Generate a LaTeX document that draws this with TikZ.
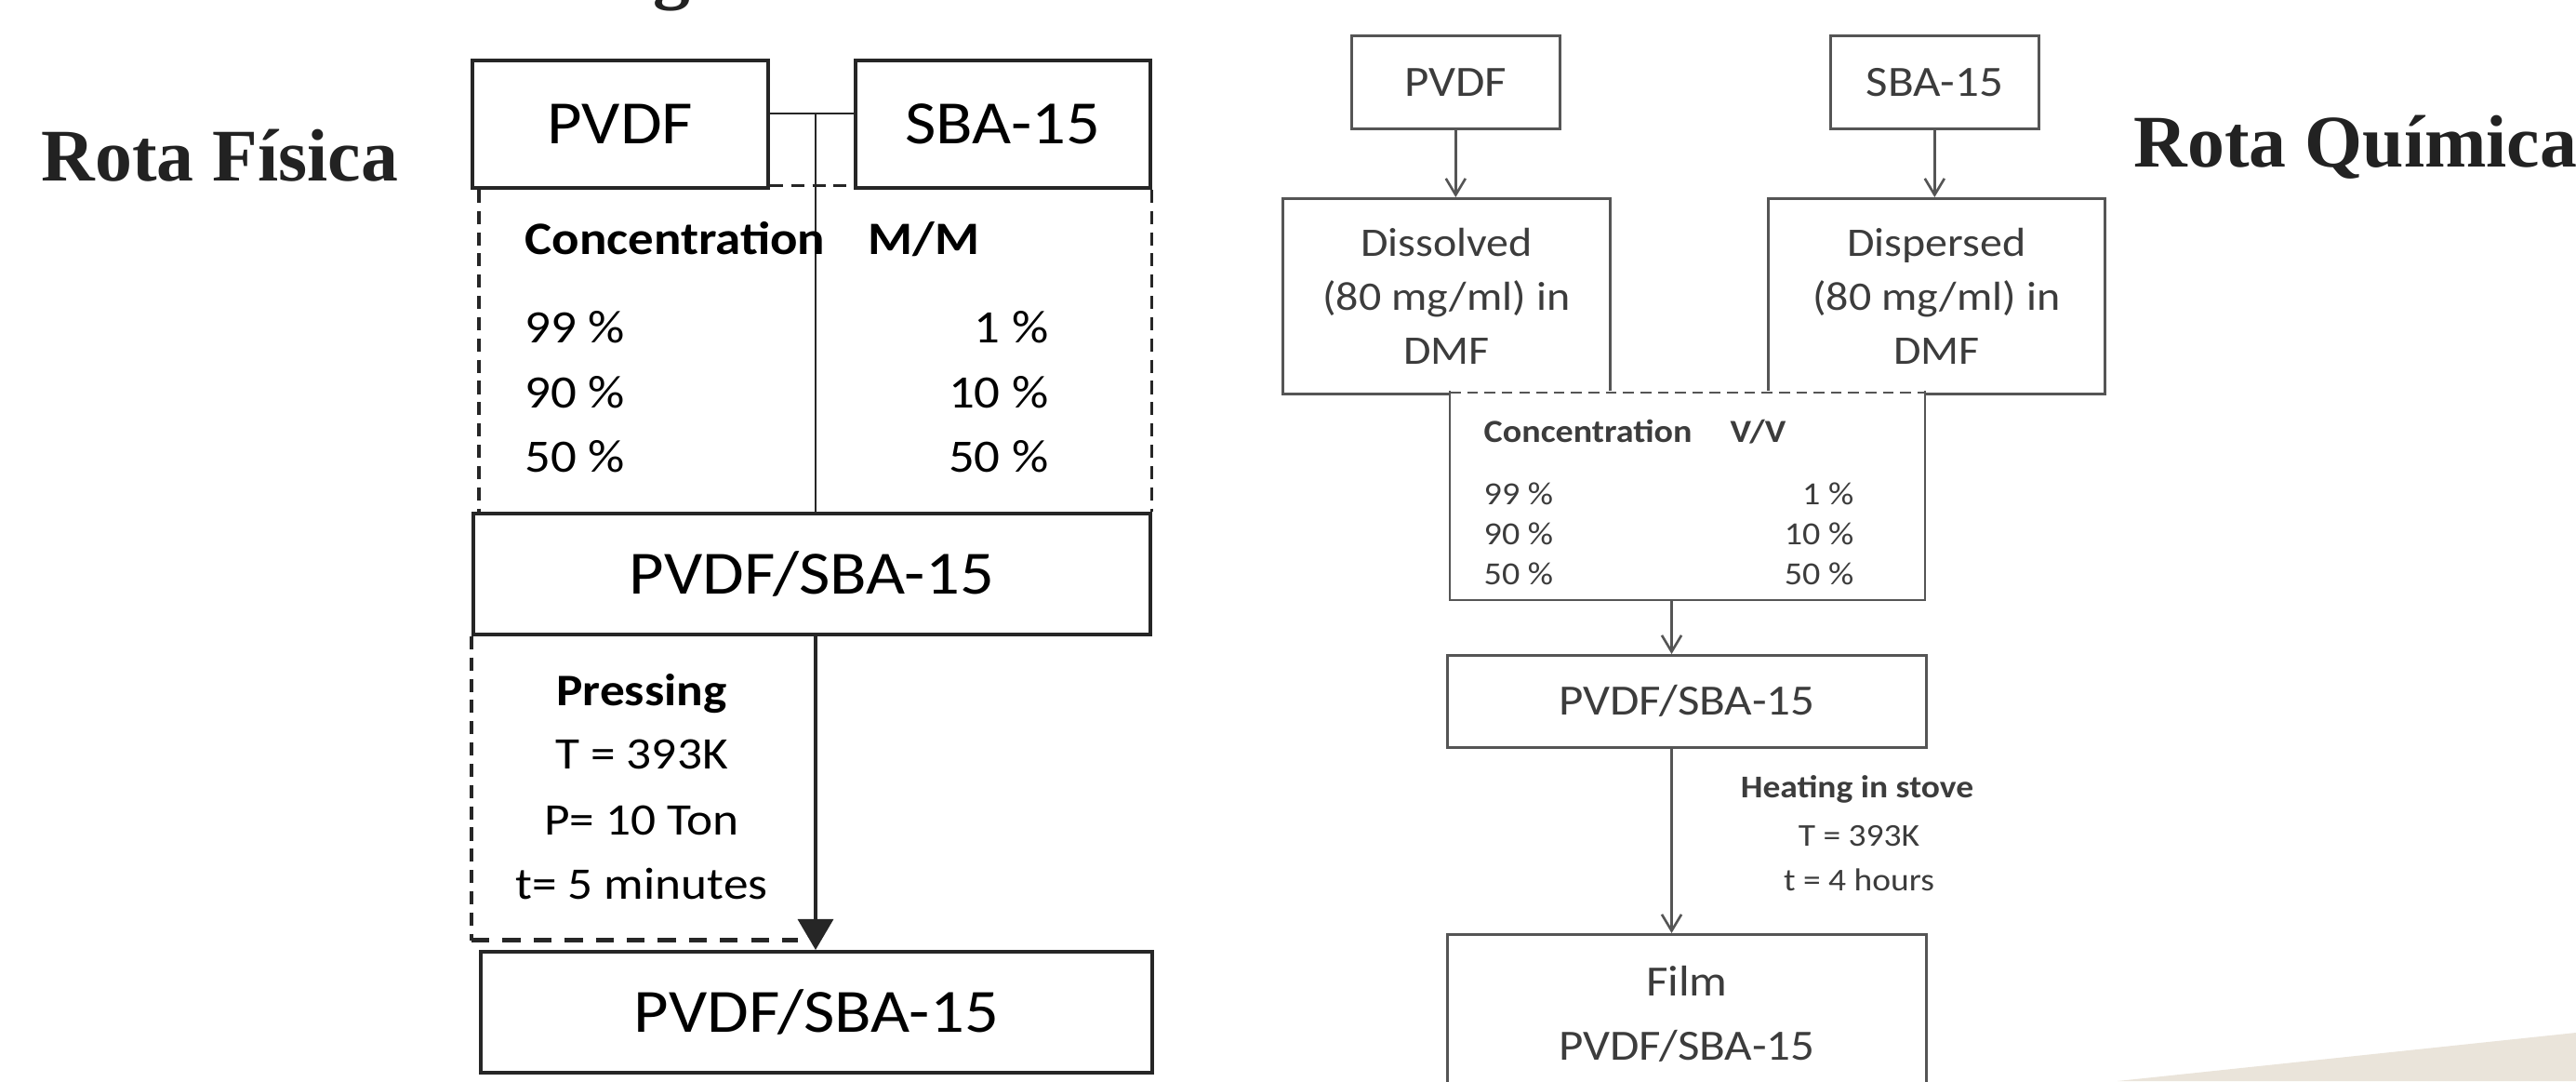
\documentclass[tikz,border=0pt]{standalone}
\usepackage{fontspec}
\setmainfont{Carlito}[FakeStretch=1.10]
\newfontfamily\rotafont{Liberation Serif}
\usepackage{xcolor}
\usepackage{tikz}
\usetikzlibrary{positioning}
\usetikzlibrary{calc,arrows.meta}

\definecolor{FisLine}{HTML}{262626}
\definecolor{QuiLine}{HTML}{555555}
\definecolor{QuiText}{HTML}{3C3C3C}
\definecolor{RotaText}{HTML}{222222}
\definecolor{Beige}{HTML}{EAE4DA}

\tikzset{
	fisbox/.style={draw=FisLine, line width=1.1pt, inner sep=0pt, anchor=north west, font=\fontsize{18.8}{22}\selectfont},
	fisline/.style={draw=FisLine, line width=0.8pt},
	fisdash/.style={draw=FisLine, line width=0.9pt, dash pattern=on 4pt off 2.5pt},
	fistext/.style={inner sep=0pt, font=\fontsize{14.2}{17}\selectfont},
	presstext/.style={inner sep=0pt, anchor=base, font=\fontsize{13.8}{16}\selectfont},
	quibox/.style={draw=QuiLine, line width=0.75pt, inner sep=0pt, anchor=north west, text=QuiText, align=center, font=\fontsize{13.2}{16.4}\selectfont},
	quiline/.style={draw=QuiLine, line width=0.75pt},
	quiarrow/.style={quiline, -{Straight Barb[length=5pt,width=6pt]}},
	quitext/.style={inner sep=0pt, text=QuiText, font=\fontsize{9.85}{12}\selectfont},
	heattext/.style={inner sep=0pt, anchor=base, text=QuiText, font=\fontsize{9.7}{12}\selectfont},
	rotalabel/.style={inner sep=0pt, anchor=base west, text=RotaText, font=\rotafont\bfseries\fontsize{22.7}{27}\selectfont},
}

\begin{document}
\begin{tikzpicture}
	
	% ---------------------
	% Page frame
	\path[fill=white, use as bounding box] (0.00cm,0.00cm) rectangle (27.70cm,-11.62cm);
	\fill[Beige] (22.77cm,-11.62cm) -- (27.70cm,-11.10cm) -- (27.70cm,-11.62cm) -- cycle;
	
	% ---------------------
	% Titles
	\node[rotalabel] (RotaFis) at (0.44cm,-1.94cm) {Rota Física};
	\node[rotalabel] (RotaQui) at (22.94cm,-1.79cm) {Rota Química};
	\node[rotalabel, anchor=base] (TitleCut) at (7.22cm,0.06cm) {g};
	
	% ------------------------------------------------
	% Rota Fisica
	\coordinate (LPvdfCorner) at (5.06cm,-0.63cm);
	\coordinate (LSbaCorner) at (9.18cm,-0.63cm);
	\coordinate (LMixCorner) at (5.07cm,-5.50cm);
	\coordinate (LOutCorner) at (5.15cm,-10.21cm);
	
	\node[fisbox, minimum width=3.18cm, minimum height=1.37cm] (LPvdf) at (LPvdfCorner) {PVDF};
	\node[fisbox, minimum width=3.17cm, minimum height=1.37cm] (LSba) at (LSbaCorner) {SBA-15};
	\node[fisbox, minimum width=7.28cm, minimum height=1.30cm] (LMix) at (LMixCorner) {PVDF/SBA-15};
	\node[fisbox, minimum width=7.22cm, minimum height=1.30cm] (LOut) at (LOutCorner) {PVDF/SBA-15};
	
	% Joining line and arrow
	\coordinate (LJoin) at (8.77cm,-1.22cm);
	\draw[fisline] (LPvdf.east |- LJoin) -- (LSba.west |- LJoin);
	\draw[fisline] (LJoin) -- (LJoin |- LMix.north);
	\draw[fisline, line width=1.0pt, -{Triangle[length=9.4pt,width=10.8pt]}] (LJoin |- LMix.south) -- (LJoin |- LOut.north);
	
	% Dashed mixing frame
	\path (LPvdf.south west) +(0.09cm,0.00cm) coordinate (LDashLeft);
	\draw[fisdash] (LDashLeft) -- (LDashLeft |- LMix.north);
	\draw[fisdash] (LSba.south east) -- (LSba.south east |- LMix.north);
	\draw[fisdash] ([yshift=0.04cm]LPvdf.south east) -- ([yshift=0.04cm]LSba.south west);
	
	\node[fistext, anchor=base west] (LConcHead) at (5.64cm,-2.73cm) {\textbf{Concentration}};
	\node[fistext, anchor=base west] (LConcUnit) at (9.33cm,-2.73cm) {\textbf{M/M}};
	\foreach \pvdf/\sba/\ypos [count=\i] in {99/1/-3.68cm, 90/10/-4.38cm, 50/50/-5.07cm}{
		\node[fistext, anchor=base west] (LRowA\i) at (5.64cm,\ypos) {\pvdf\ \%};
		\node[fistext, anchor=base east] (LRowB\i) at (11.28cm,\ypos) {\sba\ \%};
	}
	
	% Dashed pressing frame
	\path (LMix.south west) +(0.00cm,-3.27cm) coordinate (LPressCorner);
	\path (LPressCorner) +(3.51cm,0.00cm) coordinate (LPressEnd);
	\draw[fisdash] (LMix.south west) -- (LPressCorner);
	\draw[fisdash, line width=1.4pt, dash pattern=on 5.5pt off 4pt] (LPressCorner) -- (LPressEnd);
	
	\node[presstext, font=\fontsize{13.8}{16}\selectfont\bfseries] (LPress) at (6.90cm,-7.58cm) {Pressing};
	\node[presstext] (LPressT) at (6.90cm,-8.26cm) {T = 393K};
	\node[presstext] (LPressP) at (6.90cm,-8.97cm) {P= 10 Ton};
	\node[presstext] (LPressTime) at (6.90cm,-9.66cm) {t= 5 minutes};
	
	% ------------------------------------------------
	% Rota Quimica
	\coordinate (RPvdfCorner) at (14.52cm,-0.37cm);
	\coordinate (RSbaCorner) at (19.67cm,-0.37cm);
	\coordinate (RDisCorner) at (13.78cm,-2.12cm);
	\coordinate (RDspCorner) at (19.00cm,-2.12cm);
	\coordinate (RConcCorner) at (15.59cm,-4.20cm);
	\coordinate (RMixCorner) at (15.55cm,-7.03cm);
	\coordinate (RFilmCorner) at (15.55cm,-10.03cm);
	
	\node[quibox, minimum width=2.24cm, minimum height=1.00cm] (RPvdf) at (RPvdfCorner) {PVDF};
	\node[quibox, minimum width=2.24cm, minimum height=1.00cm] (RSba) at (RSbaCorner) {SBA-15};
	\node[quibox, minimum width=3.52cm, minimum height=2.10cm, font=\fontsize{12.4}{16.4}\selectfont] (RDis) at (RDisCorner) {Dissolved\\(80 mg/ml) in\\DMF};
	\node[quibox, minimum width=3.62cm, minimum height=2.10cm, font=\fontsize{12.4}{16.4}\selectfont] (RDsp) at (RDspCorner) {Dispersed\\(80 mg/ml) in\\DMF};
	
	\node[quibox, draw=none, fill=white, outer sep=0pt, minimum width=5.11cm, minimum height=2.25cm] (RConc) at (RConcCorner) {};
	\draw[quiline] (RConc.north west) -- (RConc.south west) -- (RConc.south east) -- (RConc.north east);
	\draw[quiline, dash pattern=on 3.3pt off 2pt] ([yshift=-0.02cm]RConc.north west) -- ([yshift=-0.02cm]RConc.north east);
	
	\node[quibox, minimum width=5.15cm, minimum height=0.99cm] (RMix) at (RMixCorner) {PVDF/SBA-15};
	\node[quibox, minimum width=5.15cm, minimum height=1.71cm, font=\fontsize{13.2}{19.6}\selectfont] (RFilm) at (RFilmCorner) {Film\\PVDF/SBA-15};
	
	% Arrows
	\draw[quiarrow] (RPvdf.south) -- (RPvdf.south |- RDis.north);
	\draw[quiarrow] (RSba.south) -- (RSba.south |- RDsp.north);
	\path (RConc.south) +(-0.17cm,0.00cm) coordinate (RFlow);
	\draw[quiarrow] (RFlow) -- (RFlow |- RMix.north);
	\draw[quiarrow] (RFlow |- RMix.south) -- (RFlow |- RFilm.north);
	
	% Table
	\node[quitext, anchor=base west] (RConcHead) at (15.95cm,-4.75cm) {\textbf{Concentration}};
	\node[quitext, anchor=base west] (RConcUnit) at (18.60cm,-4.75cm) {\textbf{V/V}};
	\foreach \pvdf/\sba/\ypos [count=\i] in {99/1/-5.42cm, 90/10/-5.85cm, 50/50/-6.28cm}{
		\node[quitext, anchor=base west] (RRowA\i) at (15.95cm,\ypos) {\pvdf\ \%};
		\node[quitext, anchor=base east] (RRowB\i) at (19.94cm,\ypos) {\sba\ \%};
	}
	
	% Heating
	\node[heattext, font=\fontsize{9.7}{12}\selectfont\bfseries] (RHeat) at (19.97cm,-8.57cm) {Heating in stove};
	\node[heattext] (RHeatT) at (19.99cm,-9.09cm) {T = 393K};
	\node[heattext] (RHeatTime) at (19.99cm,-9.57cm) {t = 4 hours};
	
\end{tikzpicture}
\end{document}
